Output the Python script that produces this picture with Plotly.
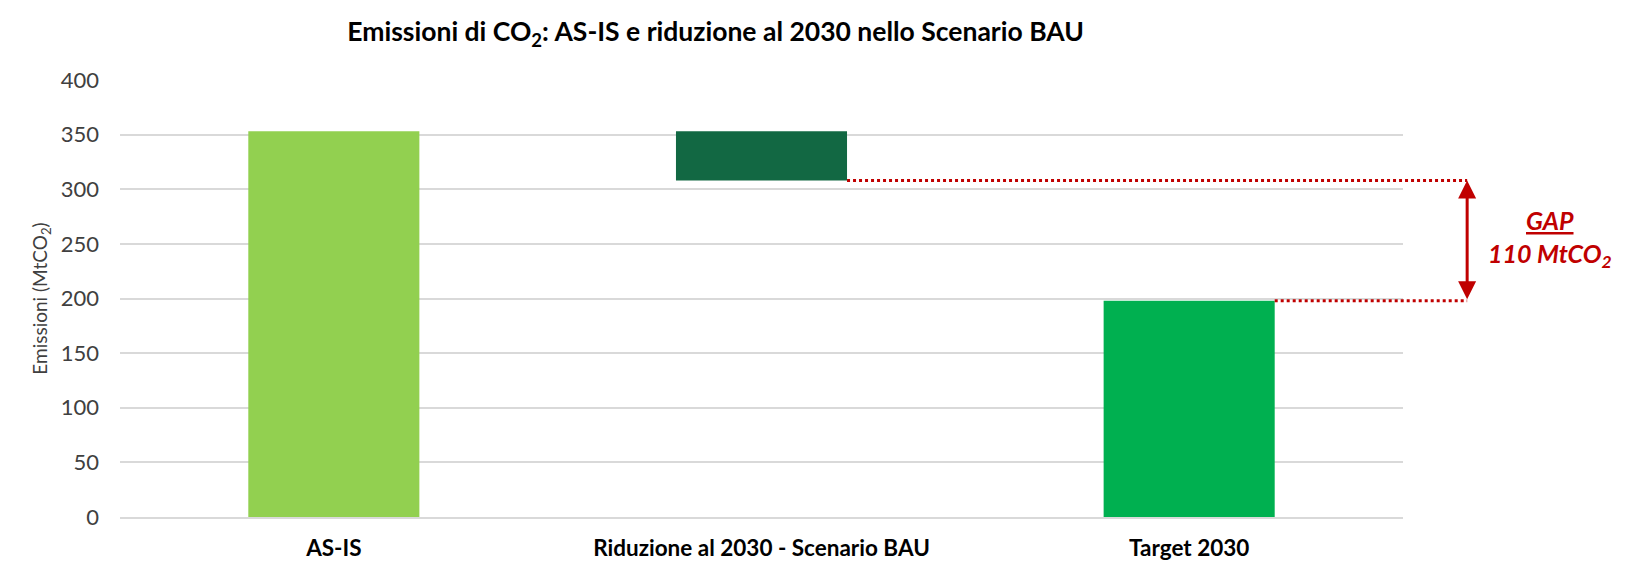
import plotly.graph_objects as go

categories = ["AS-IS", "Riduzione al 2030 - Scenario BAU", "Target 2030"]
as_is = 353
reduction_bau = 45
target_2030 = 198
gap_label_value = 110
y_ticks = [0, 50, 100, 150, 200, 250, 300, 350, 400]

after_bau = as_is - reduction_bau
values = [as_is, reduction_bau, target_2030]
bases = [0, after_bau, 0]
colors = ["#92D050", "#126843", "#00B050"]

FONT = "Lato"
RED = "#C00000"

fig = go.Figure()
fig.add_trace(go.Bar(
    x=[0, 1, 2], y=values, base=bases, width=0.4,
    marker=dict(color=colors, line=dict(width=0)),
    hoverinfo="skip", showlegend=False,
))

bar_half = 0.2
x_arrow = 1.05

def xpaper(xv):
    return (xv + 0.5) / 3.0

fig.add_shape(type="line", xref="paper", yref="y",
              x0=xpaper(1 + bar_half), x1=x_arrow, y0=after_bau, y1=after_bau,
              line=dict(color=RED, width=3, dash="dot"))
fig.add_shape(type="line", xref="paper", yref="y",
              x0=xpaper(2 + bar_half), x1=x_arrow, y0=target_2030, y1=target_2030,
              line=dict(color=RED, width=3, dash="dot"))

fig.add_annotation(xref="paper", yref="y", x=x_arrow, y=after_bau,
                   axref="pixel", ayref="y", ax=0, ay=target_2030,
                   showarrow=True, arrowhead=2, startarrowhead=2, arrowside="end+start",
                   arrowsize=1.2, startarrowsize=1.2, arrowwidth=3, arrowcolor=RED, text="")

fig.add_annotation(xref="paper", yref="y", x=1.1146, y=272, xanchor="center", yanchor="middle",
                   text="<i><b><u>GAP</u></b></i>",
                   showarrow=False, font=dict(family=FONT, size=25, color=RED))
fig.add_annotation(xref="paper", yref="y", x=1.1146, y=240, xanchor="center", yanchor="middle",
                   text=f"<i><b>{gap_label_value} MtCO<sub>2</sub></b></i>",
                   showarrow=False, font=dict(family=FONT, size=25, color=RED))

fig.update_layout(
    width=1638, height=577,
    margin=dict(l=112, r=243, t=72, b=68),
    paper_bgcolor="white", plot_bgcolor="white",
    title=dict(text="<b>Emissioni di CO<sub>2</sub>: AS-IS e riduzione al 2030 nello Scenario BAU</b>",
               x=0.432, xanchor="center", y=1 - 24 / 577, yanchor="middle",
               font=dict(family=FONT, size=26.5, color="#000000")),
    font=dict(family=FONT),
    bargap=0.6,
)
fig.update_xaxes(
    tickmode="array", tickvals=[0, 1, 2], ticktext=[f"<b>{c}</b>" for c in categories],
    range=[-0.5, 2.5], showgrid=False, showline=True, linecolor="#D9D9D9", linewidth=2,
    ticks="", tickfont=dict(family=FONT, size=22.5, color="#000000"), ticklabelstandoff=10,
)
fig.update_yaxes(
    range=[0, 400], tickmode="array", tickvals=y_ticks,
    showgrid=True, gridcolor="#D9D9D9", gridwidth=2, zeroline=False,
    ticks="", tickfont=dict(family=FONT, size=22, color="#404040"), ticklabelstandoff=20,
    title=dict(text="Emissioni (MtCO<sub>2</sub>)", font=dict(family=FONT, size=19, color="#404040"),
               standoff=8),
)

fig.write_html("out.html")
